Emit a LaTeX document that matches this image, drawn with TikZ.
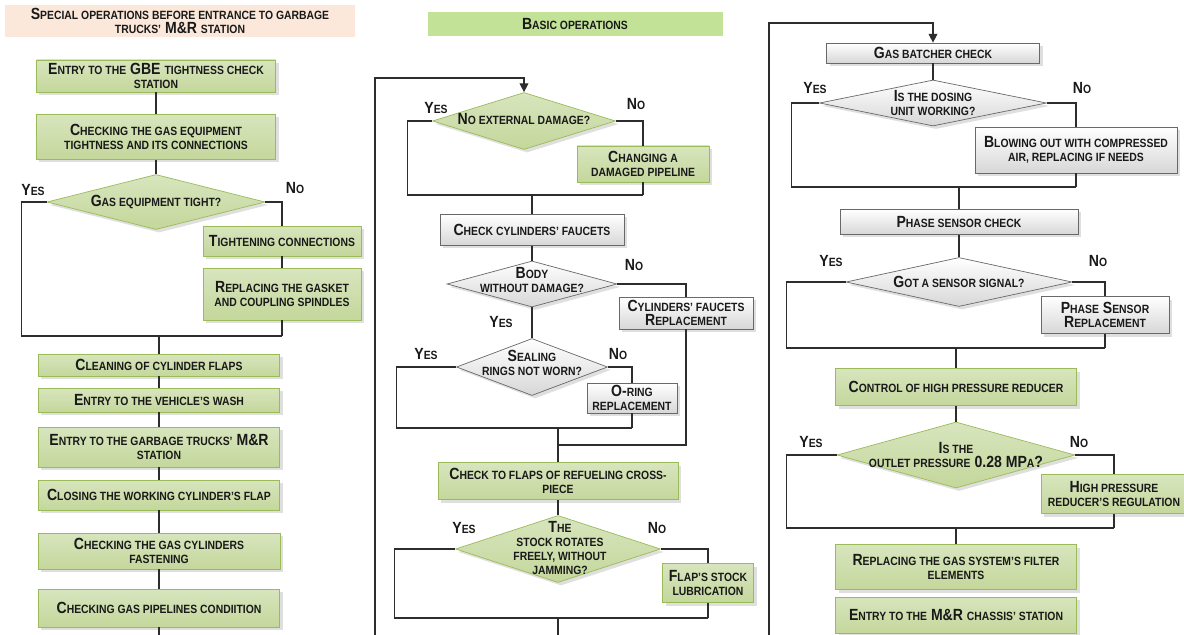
\documentclass[tikz,border=0pt]{standalone}
\usepackage{fontspec}
\setmainfont{Liberation Sans}[FakeStretch=0.87]
\usetikzlibrary{shapes.geometric,shadows,arrows.meta}

\definecolor{boxgreen}{RGB}{216,229,190}
\definecolor{boxgreendk}{RGB}{196,215,155}
\definecolor{edgegreen}{RGB}{155,187,89}
\definecolor{boxgray}{RGB}{215,215,215}
\definecolor{edgegray}{RGB}{105,105,105}
\definecolor{titlepeach}{RGB}{251,232,218}
\definecolor{titlelime}{RGB}{194,226,152}
\definecolor{linegray}{RGB}{45,45,45}

\newcommand\px{0.02cm}
\newcommand\sm[1]{{\fontsize{6.8}{8}\selectfont\MakeUppercase{#1}}}

\tikzset{
  base/.style={inner sep=0pt, align=center, text=black!90,
    font=\bfseries\fontsize{9.2}{8}\selectfont},
  shade/.style={drop shadow={opacity=0.25, shadow xshift=0.6mm, shadow yshift=-0.6mm}},
  title/.style={base, rectangle},
  gbox/.style={base, rectangle, draw=edgegreen, top color=boxgreen, bottom color=boxgreendk, shade},
  wbox/.style={base, rectangle, draw=edgegray, top color=white, bottom color=boxgray, shade},
  gdec/.style={diamond, inner sep=0pt, draw=edgegreen, top color=boxgreen, bottom color=boxgreendk, shade},
  wdec/.style={diamond, inner sep=0pt, draw=edgegray, top color=white, bottom color=boxgray, shade},
  dtext/.style={base},
  lbl/.style={base},
  conn/.style={draw=linegray, line width=0.7pt},
  loop/.style={conn, -{Triangle[length=5pt,width=5pt]}}
}

\begin{document}
\begin{tikzpicture}[x=\px, y=-\px]
  \clip (0,0) rectangle (1184,635);
  \fill[white] (0,0) rectangle (1184,635);

  % special operations
  \node[title, fill=titlepeach, minimum width=350*\px, minimum height=32*\px] (t1) at (180,21)
    {S\sm{pecial operations before entrance to garbage}\\\sm{trucks'} M\&R \sm{station}};
  \node[gbox, minimum width=239*\px, minimum height=32*\px] (a1) at (156,76)
    {E\sm{ntry to the} GBE \sm{tightness check}\\\sm{station}};
  \node[gbox, minimum width=239*\px, minimum height=45*\px] (a2) at (156,137)
    {C\sm{hecking the gas equipment}\\\sm{tightness and its connections}};
  \node[gdec, minimum width=218*\px, minimum height=55*\px] (a3) at (156,202) {};
  \node[dtext] (a3t) at (a3) {G\sm{as equipment tight?}};
  \node[gbox, minimum width=158*\px, minimum height=30*\px] (a4) at (282,241)
    {T\sm{ightening connections}};
  \node[gbox, minimum width=158*\px, minimum height=52*\px] (a5) at (282,294)
    {R\sm{eplacing the gasket}\\\sm{and coupling spindles}};
  \node[gbox, minimum width=241*\px, minimum height=22*\px] (a6) at (159,365)
    {C\sm{leaning of cylinder flaps}};
  \node[gbox, minimum width=241*\px, minimum height=24*\px] (a7) at (159,400)
    {E\sm{ntry to the vehicle's wash}};
  \node[gbox, minimum width=241*\px, minimum height=40*\px] (a8) at (159,447)
    {E\sm{ntry to the garbage trucks'} M\&R\\\sm{station}};
  \node[gbox, minimum width=241*\px, minimum height=30*\px] (a9) at (159,495)
    {C\sm{losing the working cylinder's flap}};
  \node[gbox, minimum width=242*\px, minimum height=36*\px] (a10) at (159,551)
    {C\sm{hecking the gas cylinders}\\\sm{fastening}};
  \node[gbox, minimum width=241*\px, minimum height=38*\px] (a11) at (159,608)
    {C\sm{hecking gas pipelines condiition}};
  \node[lbl] (a3y) at (33,190) {Y\sm{es}};
  \node[lbl] (a3n) at (295,188) {N\sm{o}};
  \coordinate (a3m) at (282,336);
  \coordinate (aout) at (159,645);

  % basic operations
  \node[title, fill=titlelime, minimum width=295*\px, minimum height=24*\px] (t2) at (575,24)
    {B\sm{asic operations}};
  \node[gdec, minimum width=183*\px, minimum height=57*\px] (b1) at (524,121) {};
  \node[dtext] (b1t) at (524,119) {N\sm{o external damage?}};
  \node[gbox, minimum width=132*\px, minimum height=36*\px] (b2) at (643,164)
    {C\sm{hanging a}\\\sm{damaged pipeline}};
  \node[wbox, minimum width=184*\px, minimum height=31*\px] (b3) at (532,230)
    {C\sm{heck cylinders' faucets}};
  \node[wdec, minimum width=170*\px, minimum height=46*\px] (b4) at (532,284) {};
  \node[dtext] (b4t) at (532,280) {B\sm{ody}\\\sm{without damage?}};
  \node[wbox, minimum width=134*\px, minimum height=32*\px] (b5) at (686,313)
    {C\sm{ylinders' faucets}\\R\sm{eplacement}};
  \node[wdec, minimum width=151*\px, minimum height=57*\px] (b6) at (532,367) {};
  \node[dtext] (b6t) at (532,363) {S\sm{ealing}\\\sm{rings not worn?}};
  \node[wbox, minimum width=90*\px, minimum height=30*\px] (b7) at (632,398)
    {O-\sm{ring}\\\sm{replacement}};
  \node[gbox, minimum width=240*\px, minimum height=37*\px] (b8) at (558,481)
    {C\sm{heck to flaps of refueling cross-}\\\sm{piece}};
  \node[gdec, minimum width=205*\px, minimum height=67*\px] (b9) at (558,549) {};
  \node[dtext] (b9t) at (560,548)
    {T\sm{he}\\\sm{stock rotates}\\\sm{freely, without}\\\sm{jamming?}};
  \node[gbox, minimum width=91*\px, minimum height=39*\px] (b10) at (708,583)
    {F\sm{lap's stock}\\\sm{lubrication}};
  \node[lbl] (b1y) at (436,108) {Y\sm{es}};
  \node[lbl] (b1n) at (636,104) {N\sm{o}};
  \node[lbl] (b4n) at (634,265) {N\sm{o}};
  \node[lbl] (b4y) at (501,322) {Y\sm{es}};
  \node[lbl] (b6y) at (426,354) {Y\sm{es}};
  \node[lbl] (b6n) at (618,354) {N\sm{o}};
  \node[lbl] (b9y) at (464,528) {Y\sm{es}};
  \node[lbl] (b9n) at (657,528) {N\sm{o}};
  \coordinate (bin) at (375,645);
  \coordinate (b1m) at (643,195);
  \coordinate (b5m) at (558,445);
  \coordinate (b6m) at (632,428);
  \coordinate (b9m) at (708,618);
  \coordinate (bout) at (558,645);

  % gas system checks
  \node[wbox, minimum width=213*\px, minimum height=20*\px] (c1) at (933,53)
    {G\sm{as batcher check}};
  \node[wdec, minimum width=227*\px, minimum height=46*\px] (c2) at (933,103) {};
  \node[dtext] (c2t) at (c2) {I\sm{s the dosing}\\\sm{unit working?}};
  \node[wbox, minimum width=202*\px, minimum height=46*\px] (c3) at (1076,150)
    {B\sm{lowing out with compressed}\\\sm{air, replacing if needs}};
  \node[wbox, minimum width=238*\px, minimum height=25*\px] (c4) at (959,222)
    {P\sm{hase sensor check}};
  \node[wdec, minimum width=226*\px, minimum height=49*\px] (c5) at (959,282) {};
  \node[dtext] (c5t) at (c5) {G\sm{ot a sensor signal?}};
  \node[wbox, minimum width=128*\px, minimum height=37*\px] (c6) at (1105,315)
    {P\sm{hase} S\sm{ensor}\\R\sm{eplacement}};
  \node[gbox, minimum width=241*\px, minimum height=37*\px] (c7) at (956,387)
    {C\sm{ontrol of high pressure reducer}};
  \node[gdec, minimum width=238*\px, minimum height=66*\px] (c8) at (956,455) {};
  \node[dtext] (c8t) at (c8) {I\sm{s the}\\\sm{outlet pressure} 0.28 MP\sm{a}?};
  \node[gbox, minimum width=146*\px, minimum height=39*\px] (c9) at (1114,494)
    {H\sm{igh pressure}\\\sm{reducer's regulation}};
  \node[gbox, minimum width=241*\px, minimum height=45*\px] (c10) at (956,567)
    {R\sm{eplacing the gas system's filter}\\\sm{elements}};
  \node[gbox, minimum width=241*\px, minimum height=36*\px] (c11) at (956,615)
    {E\sm{ntry to the} M\&R \sm{chassis' station}};
  \node[lbl] (c2y) at (815,88) {Y\sm{es}};
  \node[lbl] (c2n) at (1082,88) {N\sm{o}};
  \node[lbl] (c5y) at (831,261) {Y\sm{es}};
  \node[lbl] (c5n) at (1098,261) {N\sm{o}};
  \node[lbl] (c8y) at (811,442) {Y\sm{es}};
  \node[lbl] (c8n) at (1079,442) {N\sm{o}};
  \coordinate (cin) at (769,645);
  \coordinate (c2m) at (1076,187);
  \coordinate (c5m) at (1105,348);
  \coordinate (c8m) at (1114,528);

  \begin{scope}[conn]
    % left
    \draw (a1) to (a2);
    \draw (a2) to (a3);
    \draw (a3.west) -- ++(-25,0) |- (a3m);
    \draw (a3.east) -| (a4.north);
    \draw (a4) to (a5);
    \draw (a5.south) -- (a3m);
    \draw (a6.north) -- (a6.north |- a3m);
    \draw (a6) to (a7);
    \draw (a7) to (a8);
    \draw (a8) to (a9);
    \draw (a9) to (a10);
    \draw (a10) to (a11);
    \draw (a11.south) -- (aout);
    % middle
    \draw[loop] (bin) -- (375,78) -| (b1.north);
    \draw (b1.west) -- ++(-25,0) |- (b1m);
    \draw (b1.east) -| (b2.north);
    \draw (b2.south) -- (b1m);
    \draw (b3.north) -- (b3.north |- b1m);
    \draw (b3) to (b4);
    \draw (b4.east) -| (b5.north);
    \draw (b5.south) |- (b5m);
    \draw (b4) to (b6);
    \draw (b6.west) -- ++(-60,0) |- (b6m);
    \draw (b6.east) -| (b7.north);
    \draw (b7.south) -- (b6m);
    \draw (b8.north) -- (b8.north |- b6m);
    \draw (b8) to (b9);
    \draw (b9.west) -- ++(-61,0) |- (b9m);
    \draw (b9.east) -| (b10.north);
    \draw (b10.south) -- (b9m);
    \draw (bout) -- (bout |- b9m);
    % right
    \draw[loop] (cin) -- (769,23) -| (c1.north);
    \draw (c1) to (c2);
    \draw (c2.west) -- ++(-28,0) |- (c2m);
    \draw (c2.east) -| (c3.north);
    \draw (c3.south) -- (c2m);
    \draw (c4.north) -- (c4.north |- c2m);
    \draw (c4) to (c5);
    \draw (c5.west) -- ++(-59,0) |- (c5m);
    \draw (c5.east) -| (c6.north);
    \draw (c6.south) -- (c5m);
    \draw (c7.north) -- (c7.north |- c5m);
    \draw (c7) to (c8);
    \draw (c8.west) -- ++(-50,0) |- (c8m);
    \draw (c8.east) -| (c9.north);
    \draw (c9.south) -- (c8m);
    \draw (c10.north) -- (c10.north |- c8m);
  \end{scope}
\end{tikzpicture}
\end{document}
